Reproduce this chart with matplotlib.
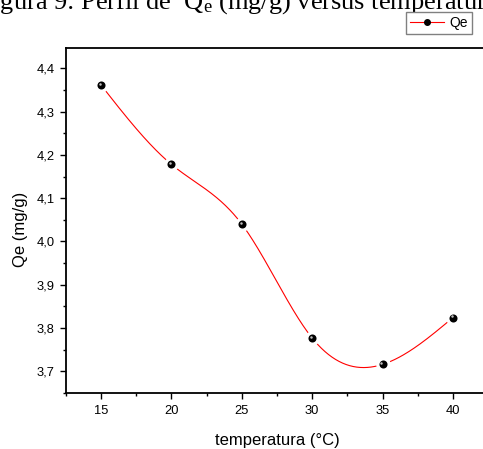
import numpy as np
import matplotlib
matplotlib.use("Agg")
import matplotlib.pyplot as plt
import matplotlib.transforms as mtransforms
from matplotlib.ticker import MultipleLocator, FuncFormatter
from matplotlib.lines import Line2D

plt.rcParams["font.family"] = ["Liberation Sans", "DejaVu Sans"]
plt.rcParams["mathtext.fontset"] = "custom"
plt.rcParams["mathtext.rm"] = "Liberation Serif"
plt.rcParams["mathtext.it"] = "Liberation Serif:italic"

# Adsorption capacity versus temperature
temperature = [15, 20, 25, 30, 35, 40]
qe = [4.361, 4.178, 4.040, 3.777, 3.716, 3.824]
x_ticks = [15, 20, 25, 30, 35, 40]
y_ticks = [3.7, 3.8, 3.9, 4.0, 4.1, 4.2, 4.3, 4.4]


def natural_cubic_spline(x, y, xs):
    x = np.asarray(x, float)
    y = np.asarray(y, float)
    n = len(x)
    h = np.diff(x)
    A = np.zeros((n, n))
    b = np.zeros(n)
    A[0, 0] = 1.0
    A[-1, -1] = 1.0
    for i in range(1, n - 1):
        A[i, i - 1] = h[i - 1]
        A[i, i] = 2 * (h[i - 1] + h[i])
        A[i, i + 1] = h[i]
        b[i] = 3 * ((y[i + 1] - y[i]) / h[i] - (y[i] - y[i - 1]) / h[i - 1])
    c = np.linalg.solve(A, b)
    out = np.empty_like(xs)
    for k, xv in enumerate(xs):
        i = min(max(np.searchsorted(x, xv) - 1, 0), n - 2)
        dx = xv - x[i]
        bi = (y[i + 1] - y[i]) / h[i] - h[i] * (2 * c[i] + c[i + 1]) / 3
        di = (c[i + 1] - c[i]) / (3 * h[i])
        out[k] = y[i] + bi * dx + c[i] * dx ** 2 + di * dx ** 3
    return out


W, H = 483, 449
fig = plt.figure(figsize=(W / 100, H / 100), dpi=100)
ax = fig.add_axes([66 / W, 1 - 393 / H, 422 / W, 345 / H])

xs = np.linspace(temperature[0], temperature[-1], 400)
ys = natural_cubic_spline(temperature, qe, xs)
ax.plot(xs, ys, color="#ff0000", lw=0.8, zorder=2)

# white halo so the curve stops short of each point
ax.plot(temperature, qe, "o", ms=10.5, color="white", mec="none", zorder=3)
ax.plot(temperature, qe, "o", ms=5.8, color="black", mec="none", zorder=4)
hl = mtransforms.offset_copy(ax.transData, fig=fig, x=-0.9, y=0.9, units="points")
ax.plot(temperature, qe, "o", ms=1.8, color="#bdbdbd", mec="none", transform=hl, zorder=5)

ax.set_xlim(12.5, 42.5)
ax.set_ylim(3.65, 4.447)
ax.set_xticks(x_ticks)
ax.set_yticks(y_ticks)
ax.xaxis.set_minor_locator(MultipleLocator(2.5))
ax.yaxis.set_minor_locator(MultipleLocator(0.05))
ax.yaxis.set_major_formatter(FuncFormatter(lambda v, p: f"{v:.1f}".replace(".", ",")))
ax.tick_params(which="both", direction="out", top=False, right=False, labelsize=9.3, colors="black")
ax.tick_params(which="major", length=4, width=1)
ax.tick_params(which="minor", length=2.2, width=1)
ax.tick_params(axis="x", pad=5)
ax.tick_params(axis="y", pad=4)
for sp in ax.spines.values():
    sp.set_linewidth(1.3)

ax.set_xlabel("temperatura (°C)", fontsize=12, labelpad=11)
ax.set_ylabel("Qe (mg/g)", fontsize=12)
ax.yaxis.set_label_coords(-0.09, 0.474)

fig.text(-22 / W, 1 - 9 / H, r"Figura 9: Perfil de  Q$_\mathregular{e}$ (mg/g) versus temperatura",
         family="Liberation Serif", fontsize=19, va="baseline", ha="left")

handle = Line2D([], [], color="#ff0000", lw=0.8, marker="o", ms=4, mfc="black", mec="black")
fig.legend([handle], ["Qe"], loc="upper right", bbox_to_anchor=(472 / W, 1 - 12 / H),
           borderaxespad=0, fancybox=False, edgecolor="#808080", framealpha=1,
           fontsize=10, handlelength=2.4, handletextpad=0.4, borderpad=0.3)

fig.savefig("out.png", dpi=100)
